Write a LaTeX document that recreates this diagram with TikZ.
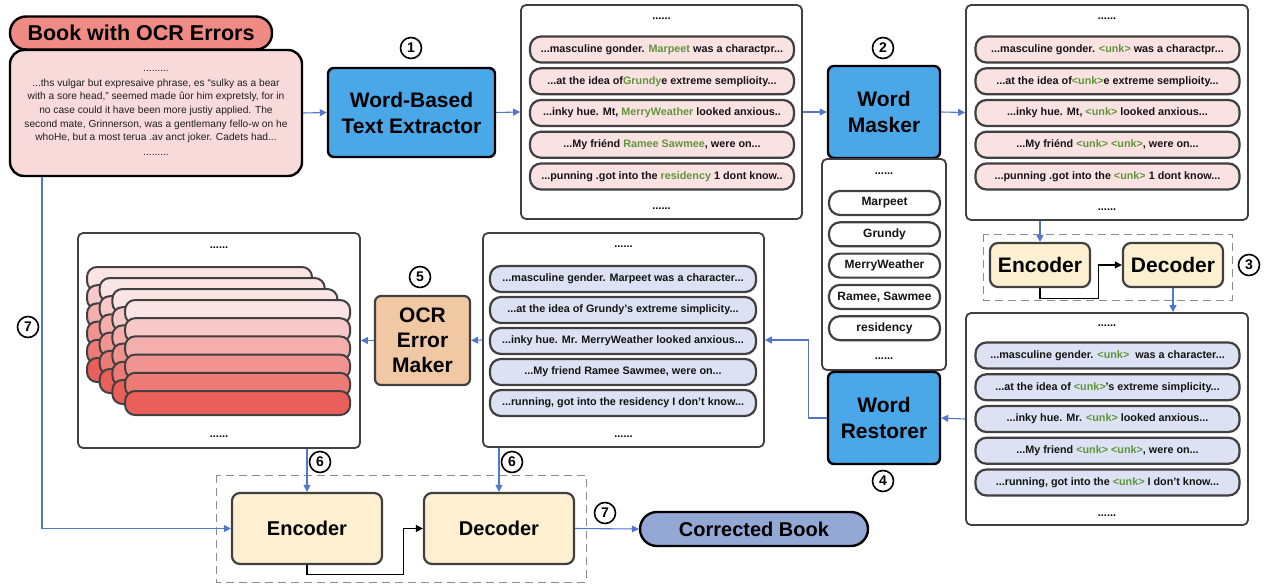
\documentclass[tikz,border=0pt]{standalone}
\usepackage{fontspec}
\setmainfont{Liberation Sans}
\usetikzlibrary{arrows.meta}

\definecolor{flowblue}{RGB}{82,118,204}
\definecolor{boxblue}{RGB}{74,168,232}
\definecolor{cream}{RGB}{252,240,208}
\definecolor{ocrtan}{RGB}{241,200,164}
\definecolor{salmon}{RGB}{240,138,132}
\definecolor{pinkbody}{RGB}{249,218,218}
\definecolor{pinkpill}{RGB}{250,226,226}
\definecolor{bluepill}{RGB}{220,226,243}
\definecolor{bookblue}{RGB}{148,168,214}
\definecolor{wordgreen}{RGB}{95,150,60}
\definecolor{edgegray}{RGB}{64,64,64}
\definecolor{stacklight}{RGB}{250,228,228}
\definecolor{stackred}{RGB}{235,95,90}

\newcommand{\gw}[1]{\textcolor{wordgreen}{#1}}

\tikzset{
  proc/.style={draw=black, line width=2.4pt, rounded corners=6pt, fill=boxblue,
    align=center, inner sep=0pt, font=\bfseries\fontsize{21}{26}\selectfont},
  coder/.style={draw=edgegray, line width=2.2pt, rounded corners=8pt, fill=cream,
    inner sep=0pt, font=\bfseries\fontsize{21}{24}\selectfont},
  listbox/.style={draw=edgegray, line width=1.8pt, rounded corners=5pt, fill=white,
    minimum width=281pt, minimum height=214pt, inner sep=0pt},
  pill/.style={draw=edgegray, line width=2.2pt, rounded corners=11pt, minimum width=264pt,
    minimum height=26pt, inner sep=0pt, text=black!92, font=\bfseries\fontsize{10.8}{12}\selectfont},
  wordpill/.style={pill, fill=white, minimum width=111pt, minimum height=24pt,
    font=\bfseries\fontsize{12}{13}\selectfont},
  dots/.style={font=\bfseries\fontsize{11}{11}\selectfont, inner sep=0pt},
  stepnum/.style={circle, draw, line width=1.6pt, inner sep=0pt, minimum size=21pt,
    font=\bfseries\fontsize{14}{14}\selectfont},
  flow/.style={draw=flowblue, line width=1.1pt, -{Triangle[length=7pt,width=7pt]}},
  link/.style={draw=black, line width=1.1pt, -{Triangle[length=7pt,width=7pt]}},
  groupbox/.style={draw=black!45, line width=1pt, dash pattern=on 8pt off 5pt}
}

\begin{document}
\begin{tikzpicture}[x=1pt, y=-1pt]
\useasboundingbox (0,0) rectangle (1270,584);

% book with errors
\node[draw=black, line width=2.4pt, rounded corners=16pt, fill=salmon, minimum width=262pt,
  minimum height=33pt, inner sep=0pt, font=\bfseries\fontsize{21.5}{24}\selectfont]
  (booktitle) at (141,33) {Book with OCR Errors};
\node[draw=black, line width=2.4pt, rounded corners=14pt, fill=pinkbody, minimum width=292pt,
  minimum height=126pt, inner sep=0pt, align=center, text=black!88,
  font=\fontsize{10.2}{13.6}\selectfont] (book) at (156,113)
  {.........\\[1pt]
   ...ths vulgar but expresaive phrase, es ``sulky as a bear\\
   with a sore head,'' seemed made ûor him expretsly, for in\\
   no case could it have been more justiy applied. The\\
   second mate, Grinnerson, was a gentlemany fello-w on he\\
   whoHe, but a most terua .av anct joker. Cadets had...\\[1pt]
   .........};

\node[proc, minimum width=167pt, minimum height=89pt] (extract) at (411.5,112.5) {Word-Based\\Text Extractor};
\node[stepnum] (s1) at (411,48) {1};

% extracted lines
\node[listbox] (ext) at (661.5,112) {};
\node[dots] at (661.5,19) {......};
\node[dots] at (661.5,209) {......};
\foreach \t [count=\i] in {
    {{...masculine gonder. \gw{Marpeet} was a charactpr...}},
    {{...at the idea of\gw{Grundy}e extreme semplioity...}},
    {{...inky hue. Mt, \gw{MerryWeather} looked anxious..}},
    {{...My friénd \gw{Ramee Sawmee}, were on...}},
    {{...punning .got into the \gw{residency} 1 dont know..}}}
  \node[pill, fill=pinkpill] (ext\i) at (662,{113+(\i-3)*31.75}) {\t};

\node[proc, minimum width=112pt, minimum height=92pt] (masker) at (884,112) {Word\\Masker};
\node[stepnum] (s2) at (883,48) {2};

% masked lines
\node[listbox, minimum width=282pt, minimum height=215pt] (mask) at (1107,112.5) {};
\node[dots] at (1107,19) {......};
\node[dots] at (1107,210) {......};
\foreach \t [count=\i] in {
    {{...masculine gonder. \gw{<unk>} was a charactpr...}},
    {{...at the idea of\gw{<unk>}e extreme semplioity...}},
    {{...inky hue. Mt, \gw{<unk>} looked anxious...}},
    {{...My friénd \gw{<unk>} \gw{<unk>}, were on...}},
    {{...punning .got into the \gw{<unk>} 1 dont know...}}}
  \node[pill, fill=pinkpill] (mask\i) at (1107.5,{113+(\i-3)*31.75}) {\t};

% masked words
\node[listbox, minimum width=124pt, minimum height=211pt] (words) at (884,264.5) {};
\node[dots] at (884,174) {......};
\node[dots] at (884,359) {......};
\foreach \t [count=\i] in {Marpeet, Grundy, MerryWeather, {Ramee, Sawmee}, residency}
  \node[wordpill] (word\i) at (884.5,{203+(\i-1)*31.3}) {\t};

% first encoder-decoder
\draw[groupbox] (983,234) rectangle (1232,300);
\node[coder, minimum width=100pt, minimum height=44pt] (enc) at (1040,265) {Encoder};
\node[coder, minimum width=100pt, minimum height=44pt] (dec) at (1173,265) {Decoder};
\node[stepnum] (s3) at (1249,265) {3};

% predicted lines
\node[listbox, minimum width=282pt, minimum height=212pt] (pred) at (1107,419) {};
\node[dots] at (1107,326) {......};
\node[dots] at (1107,516) {......};
\foreach \t [count=\i] in {
    {{...masculine gender. \gw{<unk>}\ \ was a character...}},
    {{...at the idea of \gw{<unk>}'s extreme simplicity...}},
    {{...inky hue. Mr. \gw{<unk>} looked anxious...}},
    {{...My friend \gw{<unk>} \gw{<unk>}, were on...}},
    {{...running, got into the \gw{<unk>} I don't know...}}}
  \node[pill, fill=bluepill] (pred\i) at (1107.5,{419+(\i-3)*31.75}) {\t};

\node[proc, minimum width=112pt, minimum height=92pt] (restorer) at (884,418) {Word\\Restorer};
\node[stepnum] (s4) at (883,481) {4};

% restored lines
\node[listbox] (fixed) at (623.5,340) {};
\node[dots] at (623.5,247) {......};
\node[dots] at (623.5,437) {......};
\foreach \t [count=\i] in {
    {{...masculine gender. Marpeet was a character...}},
    {{...at the idea of Grundy's extreme simplicity...}},
    {{...inky hue. Mr. MerryWeather looked anxious...}},
    {{...My friend Ramee Sawmee, were on...}},
    {{...running, got into the residency I don't know...}}}
  \node[pill, fill=bluepill, minimum width=266pt] (fixed\i) at (623,{341+(\i-3)*31}) {\t};

\node[proc, fill=ocrtan, minimum width=95pt, minimum height=89pt, line width=2.2pt,
  draw=edgegray, font=\bfseries\fontsize{21}{25}\selectfont] (ocrmaker) at (422.5,340.5) {OCR\\Error\\Maker};
\node[stepnum] (s5) at (420,277) {5};

% noisy copies
\node[listbox, minimum width=282pt, minimum height=215pt] (noisy) at (219,340.5) {};
\node[dots] at (219,248) {......};
\node[dots] at (219,437) {......};
\foreach \k in {0,...,3} {
  \foreach \i in {0,...,5} {
    \pgfmathsetmacro\px{87+12.7*\k}
    \pgfmathsetmacro\py{267+11*\k+18.2*\i}
    \pgfmathtruncatemacro\pct{\i*20}
    \filldraw[fill=stackred!\pct!stacklight, draw=edgegray, line width=2pt, rounded corners=10pt]
      (\px,\py) rectangle ++(225,24);
  }
}

% second encoder-decoder
\draw[groupbox] (216,475) rectangle (586,582);
\node[coder, minimum width=150pt, minimum height=71pt, font=\bfseries\fontsize{20}{24}\selectfont] (encb) at (307,528.5) {Encoder};
\node[coder, minimum width=150pt, minimum height=71pt, font=\bfseries\fontsize{20}{24}\selectfont] (decb) at (499,528.5) {Decoder};
\node[draw=black, line width=2.4pt, rounded corners=17pt, fill=bookblue, minimum width=228pt,
  minimum height=34pt, inner sep=0pt, font=\bfseries\fontsize{20}{22}\selectfont]
  (corrected) at (754,529) {Corrected Book};
\node[stepnum] (s6a) at (320,462) {6};
\node[stepnum] (s6b) at (512,462) {6};
\node[stepnum] (s7a) at (28,327) {7};
\node[stepnum] (s7b) at (605,513) {7};

% connectors
\draw[flow] (book.east) -- (extract.west);
\draw[flow] (extract.east) -- (ext.west);
\draw[flow] (ext.east) -- (masker.west);
\draw[flow] (masker.east) -- (mask.west);
\draw[flow] (mask.south -| enc) -- (enc.north);
\draw[link] (enc.south) -- ++(0,10) -| ([xshift=-23pt]dec.west) -- (dec.west);
\draw[flow] (dec.south) -- (dec.south |- pred.north);
\draw[flow] (pred.west) -- (restorer.east);
\draw[flow] (restorer.west) -- ++(-18,0) |- (fixed.east);
\draw[flow] (fixed.west) -- (ocrmaker.east);
\draw[flow] (ocrmaker.west) -- (noisy.east);
\draw[flow] ([xshift=-114pt]book.south) |- (encb.west);
\draw[flow] (noisy.south -| encb) -- (encb.north);
\draw[flow] (fixed.south -| decb) -- (decb.north);
\draw[link] (encb.south) -- ++(0,9) -| ([xshift=-19pt]decb.west) -- (decb.west);
\draw[flow] (decb.east) -- (corrected.west);
\end{tikzpicture}
\end{document}
